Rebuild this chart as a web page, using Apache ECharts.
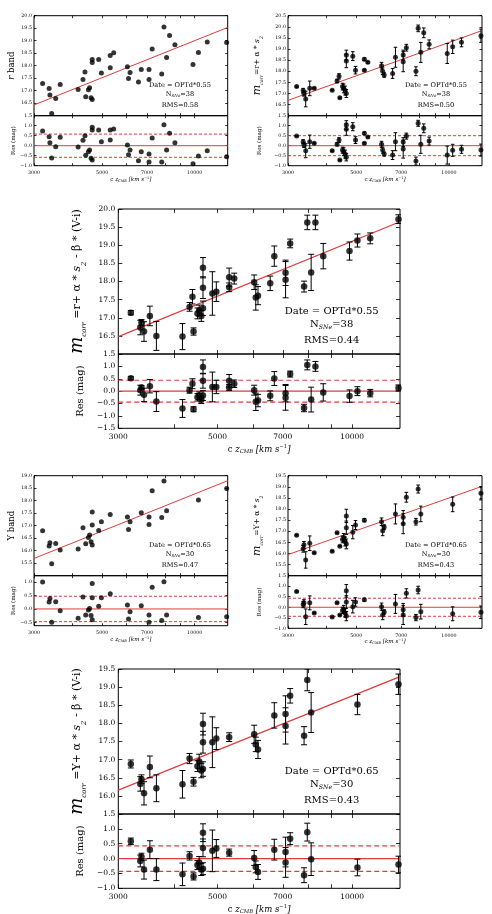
<!DOCTYPE html>
<html>
<head>
<meta charset="utf-8">
<title>Hubble diagrams, r and Y band</title>
<script src="https://cdn.jsdelivr.net/npm/echarts@6.0.0/dist/echarts.min.js"></script>
<style>
  html, body { margin: 0; padding: 0; background: #fff; }
  #main { width: 492px; height: 914px; }
</style>
</head>
<body>
<div id="main"></div>
<script>
// ---------------- data ----------------
// c z_CMB [km/s] of the 38 SNe in the r-band panels
const czR = [3200, 3360, 3380, 3425, 3530, 3650, 4175, 4330, 4395, 4420, 4510, 4550, 4600, 4640, 4640, 4640,
  4870, 4970, 5310, 5310, 5450, 6040, 6090, 6160, 6560, 6700, 7100, 7100, 7270, 7810, 7940, 8100, 8280, 8620,
  9870, 10280, 10980, 12700];
// c z_CMB of the 30 SNe in the Y-band panels
const czY = [3200, 3360, 3380, 3425, 3530, 3650, 4175, 4330, 4420, 4510, 4550, 4600, 4640, 4640, 4640, 4870,
  4970, 5310, 6040, 6090, 6160, 6700, 7100, 7100, 7270, 7810, 7940, 8100, 10280, 12700];

// r band
const magA = [17.29, 17.09, 16.83, 16.09, 16.69, 17.25, 17.05, 17.45, 17.75, 16.76, 17.04, 17.12, 16.72, 16.65,
  18.25, 18.13, 18.25, 17.71, 18.41, 17.92, 18.52, 17.96, 17.49, 17.73, 17.35, 17.85, 17.85, 17.45, 18.67, 17.67,
  19.55, 18.33, 19.21, 18.84, 18.05, 18.53, 18.95, 18.93];
const resA = [0.73, 0.45, 0.15, -0.62, -0.05, 0.42, -0.07, 0.27, 0.5, -0.48, -0.3, -0.22, -0.63, -0.72, 0.92, 0.78,
  0.78, 0.2, 0.78, 0.28, 0.83, 0.03, -0.45, -0.22, -0.75, -0.3, -0.42, -0.82, 0.38, -0.82, 1.05, -0.22, 0.62, 0.15,
  -0.9, -0.52, -0.25, -0.55];

// m_corr = r + alpha*s2
const magB = [17.31, 17.13, 17.0, 16.75, 17.23, 17.23, 17.15, 17.56, 17.77, 16.81, 17.31, 17.23, 17.13, 17.0,
  18.73, 18.46, 18.68, 18.05, 18.54, 18.05, 18.4, 18.25, 18.0, 17.83, 17.9, 18.63, 18.43, 18.73, 19.06, 18.0,
  19.93, 18.85, 19.73, 19.21, 18.8, 19.1, 19.3, 19.6];
const errB = [0.03, 0.1, 0.12, 0.35, 0.33, 0.03, 0.03, 0.08, 0.12, 0.03, 0.15, 0.2, 0.2, 0.18, 0.22, 0.3, 0.2,
  0.17, 0.06, 0.04, 0.04, 0.15, 0.15, 0.1, 0.22, 0.45, 0.45, 0.22, 0.15, 0.2, 0.15, 0.45, 0.22, 0.2, 0.45, 0.3,
  0.2, 0.3];
const resB = [0.48, 0.2, 0.03, -0.25, 0.2, 0.12, -0.25, 0.07, 0.28, -0.72, -0.22, -0.3, -0.42, -0.58, 1.03, 0.82,
  0.95, 0.28, 0.62, 0.12, 0.43, 0.07, -0.22, -0.42, -0.47, 0.2, -0.17, 0.18, 0.48, -0.77, 1.12, 0.07, 0.87, 0.23,
  -0.47, -0.23, -0.18, -0.22];

// m_corr = r + alpha*s2 - beta*(V-i)
const magC = [17.14, 16.73, 16.87, 16.62, 17.05, 16.5, 16.48, 17.3, 17.58, 16.62, 17.12, 17.2, 17.05, 17.26,
  18.38, 17.83, 17.67, 17.72, 18.12, 17.84, 18.08, 17.98, 17.56, 17.61, 17.95, 18.7, 18.24, 18.05, 19.05, 17.86,
  19.63, 18.25, 19.63, 18.7, 18.84, 19.13, 19.19, 19.72];
const errC = [0.06, 0.2, 0.08, 0.27, 0.27, 0.4, 0.36, 0.12, 0.2, 0.1, 0.15, 0.15, 0.15, 0.2, 0.28, 0.3, 0.6, 0.27,
  0.25, 0.12, 0.15, 0.2, 0.35, 0.25, 0.2, 0.28, 0.35, 0.5, 0.12, 0.15, 0.2, 0.5, 0.2, 0.35, 0.25, 0.18, 0.15, 0.12];
const resC = [0.52, 0.04, 0.15, -0.15, 0.2, -0.42, -0.7, 0.04, 0.3, -0.73, -0.25, -0.18, -0.35, -0.18, 0.98, 0.42,
  0.17, 0.17, 0.42, 0.15, 0.3, 0.04, -0.43, -0.38, -0.19, 0.51, -0.08, -0.27, 0.69, -0.68, 1.06, -0.34, 1.0, -0.05,
  -0.2, 0.0, -0.08, 0.13];

// Y band
const magD = [16.8, 16.19, 16.32, 15.48, 16.29, 16.03, 16.07, 16.92, 16.28, 16.53, 16.63, 16.36, 16.23, 17.03,
  17.55, 16.81, 17.16, 17.45, 17.35, 16.85, 17.16, 17.52, 17.35, 17.05, 18.4, 17.33, 18.79, 17.6, 18.03, 18.49];
const resD = [1.0, 0.26, 0.39, -0.49, 0.27, -0.07, -0.34, 0.44, -0.22, -0.04, 0.02, -0.24, -0.4, 0.41, 0.94, 0.1,
  0.41, 0.56, 0.15, -0.37, -0.1, 0.12, -0.22, -0.49, 0.8, -0.43, 1.01, -0.22, -0.32, -0.29];

// m_corr = Y + alpha*s2
const magE = [16.82, 16.21, 16.39, 15.71, 16.46, 16.03, 16.1, 16.93, 16.33, 16.63, 16.72, 16.54, 16.43, 17.16,
  17.69, 16.96, 17.28, 17.5, 17.43, 17.02, 17.19, 17.78, 17.63, 17.34, 18.53, 17.43, 18.9, 17.78, 18.21, 18.71];
const errE = [0.03, 0.15, 0.15, 0.37, 0.33, 0.03, 0.03, 0.03, 0.03, 0.15, 0.18, 0.2, 0.22, 0.3, 0.3, 0.3, 0.2,
  0.07, 0.17, 0.22, 0.1, 0.45, 0.3, 0.45, 0.22, 0.15, 0.18, 0.35, 0.33, 0.3];
const resE = [0.75, 0.13, 0.21, -0.45, 0.21, -0.27, -0.46, 0.22, -0.37, -0.15, -0.09, -0.27, -0.42, 0.25, 0.78,
  0.03, 0.25, 0.36, 0.03, -0.37, -0.22, 0.16, -0.12, -0.37, 0.66, -0.49, 0.82, -0.21, -0.31, -0.24];

// m_corr = Y + alpha*s2 - beta*(V-i)
const magF = [16.88, 16.33, 16.46, 16.07, 16.8, 16.21, 16.32, 17.03, 16.39, 16.82, 16.95, 16.7, 16.74, 17.48,
  17.98, 17.48, 17.58, 17.62, 17.7, 17.42, 17.28, 18.22, 18.26, 17.93, 18.76, 17.66, 19.2, 18.3, 18.52, 19.08];
const errF = [0.11, 0.2, 0.12, 0.32, 0.3, 0.37, 0.38, 0.14, 0.12, 0.15, 0.2, 0.2, 0.2, 0.3, 0.3, 0.7, 0.3, 0.12,
  0.25, 0.2, 0.25, 0.35, 0.5, 0.5, 0.2, 0.25, 0.3, 0.55, 0.28, 0.28];
const resF = [0.58, -0.08, 0.06, -0.37, 0.3, -0.37, -0.53, 0.09, -0.6, -0.22, -0.13, -0.37, -0.34, 0.36, 0.87,
  0.26, 0.34, 0.2, 0.02, -0.28, -0.45, 0.3, 0.22, -0.13, 0.67, -0.56, 0.89, -0.02, -0.3, -0.2];

// fitted Hubble lines, end points [cz, mag]
const fitA = [[3000, 16.43], [12800, 19.53]];
const fitB = [[3000, 16.69], [12800, 19.83]];
const fitC = [[3000, 16.48], [12800, 19.65]];
const fitD = [[3000, 15.69], [12800, 18.80]];
const fitE = [[3000, 15.95], [12800, 19.02]];
const fitF = [[3000, 16.16], [12800, 19.29]];

// tick values
const czTicks = [3000, 4000, 5000, 6000, 7000, 8000, 9000, 10000];
const czLabels = [3000, 5000, 7000, 10000];
const magTicksA = [16, 16.5, 17, 17.5, 18, 18.5, 19, 19.5, 20];
const magTicksB = [16, 16.5, 17, 17.5, 18, 18.5, 19, 19.5, 20, 20.5];
const magTicksD = [15, 15.5, 16, 16.5, 17, 17.5, 18, 18.5, 19];
const magTicksE = [15, 15.5, 16, 16.5, 17, 17.5, 18, 18.5, 19, 19.5];
const magTicksF = [15.5, 16, 16.5, 17, 17.5, 18, 18.5, 19, 19.5];
const resTicks = [-1, -0.5, 0, 0.5, 1, 1.5];
const resTicksC = [-1.5, -1, -0.5, 0, 0.5, 1, 1.5];
const resTicksD = [-0.5, 0, 0.5, 1];

// ---------------- drawing ----------------
const FONT = 'DejaVu Serif';
const RED = '#e23b3b';
const CZ_MIN = 3000, CZ_MAX = 12800;
const LOG = Math.log10;

const SMALL = { lab: 4.8, tick: 2.5, sym: 5, cap: 1.8, note: 6.6, noteDy: [0, 9.3, 20.7], xName: 5.6,
  resName: 5.6, xMargin: 4.5, xGap: 10, yMargin: 2, lw: 1, dash: [3, 2] };
const BIG = { lab: 7.5, tick: 4, sym: 6.5, cap: 3, note: 10, noteDy: [0, 13.3, 29], xName: 8.5,
  resName: 10, xMargin: 5, xGap: 16, yMargin: 3, lw: 1.2, dash: [5, 3] };

const panels = [
  { cz: czR, mag: magA, err: null, res: resA, fit: fitA, rms: 0.58, date: '0.55', n: 38,
    left: 34, top: 15.7, width: 193.7, mainH: 100, resH: 50, big: false,
    yMain: [16, 20], magTicks: magTicksA, yRes: [-1, 1.5], resTicks: resTicks,
    yName: '{it|r} band', yFs: 8.5, mFs: 8.5, yGap: 17, resGap: 17, note: [180, 85] },
  { cz: czR, mag: magB, err: errB, res: resB, fit: fitB, rms: 0.50, date: '0.55', n: 38,
    left: 288, top: 15.7, width: 194, mainH: 100, resH: 50, big: false,
    yMain: [16, 20.5], magTicks: magTicksB, yRes: [-1, 1.5], resTicks: resTicks,
    yName: '{m|m}{sub|corr}=r+ α * {it|s}{sub|2}', yFs: 7.5, mFs: 11, yGap: 24, resGap: 25, note: [436, 85] },
  { cz: czR, mag: magC, err: errC, res: resC, fit: fitC, rms: 0.44, date: '0.55', n: 38,
    left: 118.3, top: 209, width: 281.7, mainH: 145, resH: 74.3, big: true,
    yMain: [16, 20], magTicks: magTicksA, yRes: [-1.5, 1.5], resTicks: resTicksC,
    yName: '{m|m}{sub|corr} =r+ α * {it|s}{sub|2} - β * (V-i)', yFs: 11, mFs: 18, yGap: 19, resGap: 19,
    note: [331.7, 311] },
  { cz: czY, mag: magD, err: null, res: resD, fit: fitD, rms: 0.47, date: '0.65', n: 30,
    left: 34, top: 475.7, width: 193.7, mainH: 100, resH: 50, big: false,
    yMain: [15, 19], magTicks: magTicksD, yRes: [-0.62, 1.23], resTicks: resTicksD,
    yName: 'Y band', yFs: 8.5, mFs: 8.5, yGap: 17, resGap: 17, note: [180, 545] },
  { cz: czY, mag: magE, err: errE, res: resE, fit: fitE, rms: 0.43, date: '0.65', n: 30,
    left: 288, top: 475.7, width: 194, mainH: 100, resH: 52.6, big: false,
    yMain: [15, 19.5], magTicks: magTicksE, yRes: [-1, 1.5], resTicks: resTicks,
    yName: '{m|m}{sub|corr}=Y+ α * {it|s}{sub|2}', yFs: 7.5, mFs: 11, yGap: 24, resGap: 25, note: [436, 545] },
  { cz: czY, mag: magF, err: errF, res: resF, fit: fitF, rms: 0.43, date: '0.65', n: 30,
    left: 118.3, top: 669, width: 281.7, mainH: 145, resH: 74.3, big: true,
    yMain: [15.5, 19.5], magTicks: magTicksF, yRes: [-1, 1.5], resTicks: resTicks,
    yName: '{m|m}{sub|corr} =Y+ α * {it|s}{sub|2} - β * (V-i)', yFs: 11, mFs: 18, yGap: 19, resGap: 19,
    note: [331.7, 771] }
];

function richSet(fs, mfs) {
  const L = Math.round(Math.max(fs, mfs) * 1.15);
  return {
    m: { fontFamily: FONT, fontStyle: 'italic', fontSize: mfs, lineHeight: L, color: '#000' },
    it: { fontFamily: FONT, fontStyle: 'italic', fontSize: fs, lineHeight: L, color: '#000' },
    sub: { fontFamily: FONT, fontStyle: 'italic', fontSize: fs * 0.62, lineHeight: fs * 0.62,
      verticalAlign: 'bottom', color: '#000' },
    sup: { fontFamily: FONT, fontSize: fs * 0.62, lineHeight: fs * 0.62, verticalAlign: 'top', color: '#000' }
  };
}
function nameStyle(fs, mfs) {
  return { fontFamily: FONT, fontSize: fs, color: '#000', lineHeight: Math.round(Math.max(fs, mfs) * 1.15),
    rich: richSet(fs, mfs) };
}
const fmtY = function (v) { return v.toFixed(1).replace('-', '\u2212'); };
const fmtCz = function (v) { return String(Math.round(Math.pow(10, v))); };
const X_NAME = 'c {it|z}{sub|CMB} {it|[km s}{sup|\u22121}{it|]}';

const option = {
  animation: false,
  backgroundColor: '#fff',
  textStyle: { fontFamily: FONT },
  grid: [], xAxis: [], yAxis: [], series: [],
  graphic: { elements: [] }
};

function addGrid(left, top, width, height) {
  option.grid.push({ left: left, top: top, width: width, height: height, containLabel: false,
    outerBoundsMode: 'none', show: true, borderColor: '#000', borderWidth: 1, backgroundColor: 'transparent' });
  return option.grid.length - 1;
}

function tickOf(s, vals) {
  return { show: true, inside: true, length: s.tick, customValues: vals, lineStyle: { color: '#000', width: 0.8 } };
}

function addAxes(gi, s, yRange, yLabelVals, yTickVals, isRes, yName, yGap, yFs, mFs) {
  const xMin = LOG(CZ_MIN), xMax = LOG(CZ_MAX);
  const common = { gridIndex: gi, type: 'value', splitLine: { show: false }, minorTick: { show: false } };
  option.xAxis.push(Object.assign({}, common, {
    position: 'bottom', min: xMin, max: xMax,
    axisLine: { show: false, onZero: false },
    axisTick: tickOf(s, czTicks.map(LOG)),
    axisLabel: { show: isRes, customValues: czLabels.map(LOG), formatter: fmtCz, fontFamily: FONT,
      fontSize: s.lab, color: '#000', margin: s.xMargin },
    name: isRes ? X_NAME : '', nameLocation: 'middle', nameGap: s.xGap,
    nameTextStyle: nameStyle(s.xName, s.xName)
  }));
  option.xAxis.push(Object.assign({}, common, {
    position: 'top', min: xMin, max: xMax,
    axisLine: { show: false, onZero: false },
    axisTick: tickOf(s, czTicks.map(LOG)),
    axisLabel: { show: false }
  }));
  option.yAxis.push(Object.assign({}, common, {
    position: 'left', min: yRange[0], max: yRange[1],
    axisLine: { show: false, onZero: false },
    axisTick: tickOf(s, yTickVals),
    axisLabel: { show: true, customValues: yLabelVals, formatter: fmtY, fontFamily: FONT,
      fontSize: s.lab, color: '#000', margin: s.yMargin },
    name: yName, nameLocation: 'middle', nameRotate: 90, nameGap: yGap,
    nameTextStyle: nameStyle(yFs, mFs)
  }));
  option.yAxis.push(Object.assign({}, common, {
    position: 'right', min: yRange[0], max: yRange[1],
    axisLine: { show: false, onZero: false },
    axisTick: tickOf(s, yTickVals),
    axisLabel: { show: false }
  }));
}

function errorSeries(gi, data, cap) {
  return {
    type: 'custom', xAxisIndex: 2 * gi, yAxisIndex: 2 * gi, clip: true, silent: true, z: 3,
    data: data,
    encode: { x: 0, y: [1, 2] },
    renderItem: function (params, api) {
      const x = api.value(0);
      const lo = api.coord([x, api.value(1)]);
      const hi = api.coord([x, api.value(2)]);
      function seg(x1, y1, x2, y2) {
        return { type: 'line', shape: { x1: x1, y1: y1, x2: x2, y2: y2 }, style: { stroke: '#000', lineWidth: 1 } };
      }
      return { type: 'group', children: [
        seg(lo[0], lo[1], hi[0], hi[1]),
        seg(lo[0] - cap, lo[1], lo[0] + cap, lo[1]),
        seg(hi[0] - cap, hi[1], hi[0] + cap, hi[1])
      ] };
    }
  };
}

function scatterSeries(gi, data, size) {
  return { type: 'scatter', xAxisIndex: 2 * gi, yAxisIndex: 2 * gi, data: data, symbol: 'circle',
    symbolSize: size, itemStyle: { color: '#000' }, silent: true, z: 4, clip: true };
}

function hLine(gi, level, s, dashed) {
  // horizontal reference line across the whole residual panel
  return { type: 'line', xAxisIndex: 2 * gi, yAxisIndex: 2 * gi, silent: true, z: 2, symbol: 'none',
    data: [[LOG(CZ_MIN), level], [LOG(CZ_MAX), level]],
    itemStyle: { color: RED },
    lineStyle: { color: RED, width: s.lw, type: dashed ? s.dash : 'solid' } };
}

panels.forEach(function (p) {
  const s = p.big ? BIG : SMALL;
  const gMain = addGrid(p.left, p.top, p.width, p.mainH);
  const gRes = addGrid(p.left, p.top + p.mainH, p.width, p.resH);
  const mainLabels = p.magTicks.filter(function (v) { return v > p.yMain[0]; });
  addAxes(gMain, s, p.yMain, mainLabels, p.magTicks, false, p.yName, p.yGap, p.yFs, p.mFs);
  addAxes(gRes, s, p.yRes, p.resTicks, p.resTicks, true, 'Res (mag)', p.resGap, s.resName, s.resName);

  const xs = p.cz.map(LOG);
  // fitted line
  option.series.push({ type: 'line', xAxisIndex: 2 * gMain, yAxisIndex: 2 * gMain, silent: true, z: 2,
    data: p.fit.map(function (q) { return [LOG(q[0]), q[1]]; }), symbol: 'none',
    itemStyle: { color: RED }, lineStyle: { color: RED, width: s.lw } });
  // zero and +/- RMS lines of the residual panel
  option.series.push(hLine(gRes, 0, s, false));
  option.series.push(hLine(gRes, p.rms, s, true));
  option.series.push(hLine(gRes, -p.rms, s, true));
  if (p.err) {
    option.series.push(errorSeries(gMain, xs.map(function (x, i) {
      return [x, p.mag[i] - p.err[i], p.mag[i] + p.err[i]];
    }), s.cap));
    option.series.push(errorSeries(gRes, xs.map(function (x, i) {
      return [x, p.res[i] - p.err[i], p.res[i] + p.err[i]];
    }), s.cap));
  }
  option.series.push(scatterSeries(gMain, xs.map(function (x, i) { return [x, p.mag[i]]; }), s.sym));
  option.series.push(scatterSeries(gRes, xs.map(function (x, i) { return [x, p.res[i]]; }), s.sym));

  // annotation
  const lines = ['Date = OPTd*' + p.date, 'N{sub|SNe}=' + p.n, 'RMS=' + p.rms.toFixed(2)];
  lines.forEach(function (t, k) {
    option.graphic.elements.push({
      type: 'text', x: p.note[0], y: p.note[1] + s.noteDy[k], silent: true,
      style: { text: t, fontFamily: FONT, fontSize: s.note, fill: '#000', lineHeight: Math.round(s.note * 1.15),
        align: 'center', verticalAlign: 'middle', textAlign: 'center', textVerticalAlign: 'middle',
        rich: richSet(s.note, s.note) }
    });
  });
});

const chart = echarts.init(document.getElementById('main'), null, { renderer: 'canvas' });
chart.setOption(option);
</script>
</body>
</html>
